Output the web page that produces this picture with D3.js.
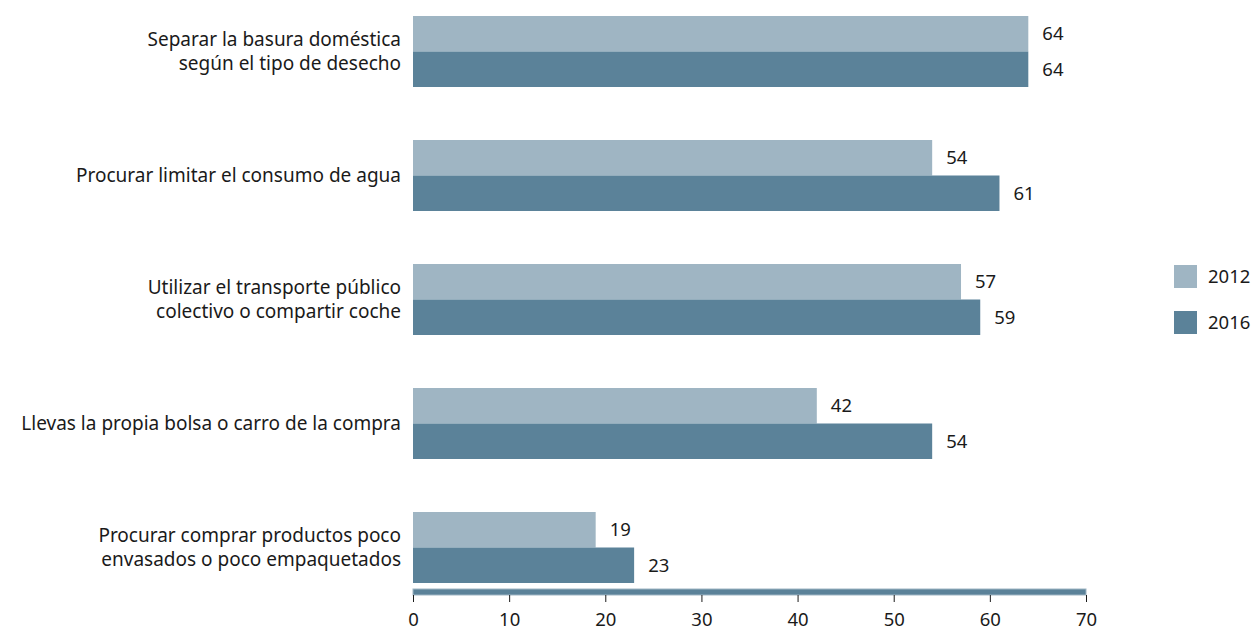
<!DOCTYPE html>
<html><head><meta charset="utf-8">
<script src="https://cdn.jsdelivr.net/npm/d3@7"></script>
<style>body{margin:0;background:#fff}svg{display:block}text{font-family:"Noto Sans",sans-serif;fill:#1a1a1a}</style>
</head><body>
<svg id="c" width="1256" height="630"></svg>
<script>
const categories = [
  ["Separar la basura doméstica", "según el tipo de desecho"],
  ["Procurar limitar el consumo de agua"],
  ["Utilizar el transporte público", "colectivo o compartir coche"],
  ["Llevas la propia bolsa o carro de la compra"],
  ["Procurar comprar productos poco", "envasados o poco empaquetados"]
];
const series = ["2012", "2016"];
const values2012 = [64, 54, 57, 42, 19];
const values2016 = [64, 61, 59, 54, 23];
const ticks = [0, 10, 20, 30, 40, 50, 60, 70];
const colors = ["#9fb5c3", "#5b8299"];

const svg = d3.select("#c");
const x = d3.scaleLinear().domain([0, 70]).range([413, 1086]);
const y = d3.scaleBand().domain(d3.range(categories.length)).range([16, 583]).paddingInner(53 / 124).paddingOuter(0);
const sub = d3.scaleBand().domain(series).range([0, y.bandwidth()]);
const data = [values2012, values2016];

const g = svg.append("g");
categories.forEach((cat, i) => {
  series.forEach((s, j) => {
    const v = data[j][i];
    g.append("rect").attr("x", x(0)).attr("y", y(i) + sub(s))
      .attr("width", x(v) - x(0)).attr("height", sub.bandwidth()).attr("fill", colors[j]);
    g.append("text").attr("x", x(v) + 14).attr("y", y(i) + sub(s) + sub.bandwidth() / 2)
      .attr("dy", "0.35em").attr("font-size", 18.5).text(v);
  });
  const cy = y(i) + y.bandwidth() / 2;
  const t = g.append("text").attr("text-anchor", "end").attr("font-size", 19);
  cat.forEach((line, k) => {
    t.append("tspan").attr("x", 401).attr("y", cy + (k - (cat.length - 1) / 2) * 24.5).attr("dy", "0.35em").text(line);
  });
});

// axis
const axY = 589;
svg.append("rect").attr("x", x(0)).attr("y", axY).attr("width", x(70) - x(0)).attr("height", 6)
  .attr("fill", "#5b8299").attr("stroke", "#9fb5c3").attr("stroke-width", 1);
const axis = d3.axisBottom(x).tickValues(ticks).tickSize(7).tickPadding(11).tickSizeOuter(0);
const ag = svg.append("g").attr("transform", `translate(0,${axY + 6})`).call(axis);
ag.select(".domain").remove();
ag.selectAll(".tick line").attr("stroke", "#1a1a1a");
ag.selectAll(".tick text").attr("font-size", 18.5).attr("font-family", "Noto Sans").attr("fill", "#1a1a1a");

// legend
series.forEach((s, j) => {
  const ly = 265 + j * 46;
  svg.append("rect").attr("x", 1174).attr("y", ly).attr("width", 23).attr("height", 23).attr("fill", colors[j]);
  svg.append("text").attr("x", 1208).attr("y", ly + 11.5).attr("dy", "0.35em").attr("font-size", 18.5).text(s);
});
</script>
</body></html>
